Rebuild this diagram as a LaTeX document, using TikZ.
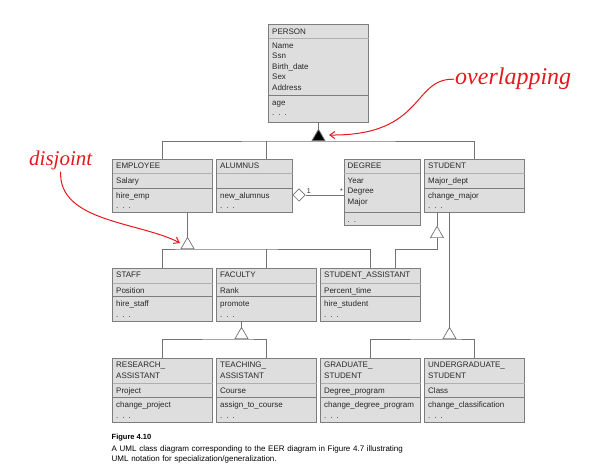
\documentclass[tikz,border=0pt]{standalone}
\usepackage{fontspec}
\newfontfamily\classfont{Liberation Sans}
\newfontfamily\notefont{Liberation Serif}
\usetikzlibrary{calc,shapes.geometric,arrows.meta}

\definecolor{boxfill}{RGB}{222,222,222}
\definecolor{boxline}{RGB}{125,125,125}
\definecolor{sepline}{RGB}{175,175,175}
\definecolor{linkgray}{RGB}{115,115,115}
\definecolor{boxtext}{RGB}{40,40,40}
\definecolor{notered}{RGB}{228,24,30}

\tikzset{
  classbox/.style={draw=boxline, fill=boxfill, line width=0.8pt, inner sep=0pt, outer sep=0pt},
  titleline/.style={draw=sepline, line width=0.6pt},
  rowline/.style={draw=boxline, line width=0.6pt},
  classtext/.style={anchor=base west, inner sep=0pt, text width=94pt, align=left,
    text=boxtext, font=\classfont\fontsize{8}{10.4}\selectfont},
  link/.style={draw=linkgray, line width=0.7pt},
  gentri/.style={regular polygon, regular polygon sides=3, draw=linkgray, line width=0.7pt,
    inner sep=0pt, minimum size=15pt},
  aggdiamond/.style={diamond, draw=linkgray, fill=white, line width=0.7pt, inner sep=0pt,
    minimum width=12.5pt, minimum height=12.5pt},
  multlabel/.style={inner sep=1pt, text=boxtext, font=\classfont\fontsize{7}{8}\selectfont},
  note/.style={text=notered, inner sep=1pt, font=\notefont\itshape\fontsize{24}{28}\selectfont},
  notearrow/.style={draw=notered, line width=1pt, -{Straight Barb[length=5pt,width=7pt]}},
  captext/.style={anchor=base west, inner sep=0pt, text width=340pt, align=left,
    font=\classfont\fontsize{8}{10}\selectfont},
}

% one class: name, corner, width, row heights, title, attributes, operations
\newcommand{\umlclass}[9]{%
  \node[classbox, minimum width=#3pt, minimum height={(#4+#5+#6)*1pt}, anchor=north west] (#1) at (#2) {};
  \draw[titleline] ($(#1.north west)+(0,#4)$) -- ($(#1.north east)+(0,#4)$);
  \draw[rowline] ($(#1.north west)+(0,#4+#5)$) -- ($(#1.north east)+(0,#4+#5)$);
  \node[classtext] at ($(#1.north west)+(3.5,10)$) {#7};
  \node[classtext] at ($(#1.north west)+(3.5,#4+10.5)$) {#8};
  \node[classtext] at ($(#1.north west)+(3.5,#4+#5+10.5)$) {#9};
}

\begin{document}
\begin{tikzpicture}[x=1pt,y=-1pt]
	\useasboundingbox (0,0) rectangle (590,473);
	% classes
	\umlclass{person}{268.5,24.5}{100}{13.5}{57}{27.5}{PERSON}{Name\\Ssn\\Birth\_date\\Sex\\Address}{age\\. . .}
	\umlclass{employee}{112.5,159}{100}{14}{15}{24}{EMPLOYEE}{Salary}{hire\_emp\\. . .}
	\umlclass{alumnus}{216.5,159}{76}{14}{15}{24}{ALUMNUS}{}{new\_alumnus\\. . .}
	\umlclass{degree}{344,159}{76}{14}{39}{13}{DEGREE}{Year\\Degree\\Major}{. .}
	\umlclass{student}{424.5,159}{100}{14}{15}{24}{STUDENT}{Major\_dept}{change\_major\\. . .}
	\umlclass{staff}{112.5,268}{100}{15}{13.5}{24.5}{STAFF}{Position}{hire\_staff\\. . .}
	\umlclass{faculty}{216.5,268}{100}{15}{13.5}{24.5}{FACULTY}{Rank}{promote\\. . .}
	\umlclass{stuassist}{320.5,268}{100}{15}{13.5}{24.5}{STUDENT\_ASSISTANT}{Percent\_time}{hire\_student\\. . .}
	\umlclass{research}{112.5,358}{100}{25.5}{14}{24.5}{RESEARCH\_\\ASSISTANT}{Project}{change\_project\\. . .}
	\umlclass{teaching}{216.5,358}{100}{25.5}{14}{24.5}{TEACHING\_\\ASSISTANT}{Course}{assign\_to\_course\\. . .}
	\umlclass{graduate}{320.5,358}{100}{25.5}{14}{24.5}{GRADUATE\_\\STUDENT}{Degree\_program}{change\_degree\_program\\. . .}
	\umlclass{undergrad}{424.5,358}{100}{25.5}{14}{24.5}{UNDERGRADUATE\_\\STUDENT}{Class}{change\_classification\\. . .}

	% specialization triangles
	\node[gentri, fill=black, anchor=south] (ptri) at (318.5,141) {};
	\node[gentri, fill=white, anchor=south] (etri) at (187.5,249) {};
	\node[gentri, fill=white, anchor=south] (stri) at (437,238) {};
	\node[gentri, fill=white, anchor=south] (ftri) at (241.5,339) {};
	\node[gentri, fill=white, anchor=south] (utri) at (449.5,339) {};

	% overlapping: person
	\draw[link] (person.south) -- (ptri.north);
	\draw[link] (employee.north) |- (ptri.south) -| (student.north);
	\draw[link] ([xshift=12pt]alumnus.north) -- ([xshift=12pt]alumnus.north |- ptri.south);
	% disjoint: employee
	\draw[link] ([xshift=25pt]employee.south) -- (etri.north);
	\draw[link] (staff.north) |- (etri.south) -| (stuassist.north);
	\draw[link] (faculty.north) -- (faculty.north |- etri.south);
	% student
	\draw[link] ([xshift=-37.5pt]student.south) -- (stri.north);
	\draw[link] (stri.south) |- ([xshift=24.5pt]stuassist.north |- etri.south) -- ([xshift=24.5pt]stuassist.north);
	\draw[link] ([xshift=-25pt]student.south) -- (utri.north);
	\draw[link] (graduate.north) |- (utri.south) -| (undergrad.north);
	% faculty
	\draw[link] ([xshift=-25pt]faculty.south) -- (ftri.north);
	\draw[link] (research.north) |- (ftri.south) -| (teaching.north);

	% aggregation alumnus - degree
	\node[aggdiamond, anchor=west] (agg) at ([yshift=-9.5pt]alumnus.east) {};
	\draw[link] (agg.east) -- (agg.east -| degree.west);
	\node[multlabel, anchor=south west] (multone) at (agg.east) {1};
	\node[multlabel, anchor=south east] (multmany) at (agg.east -| degree.west) {*};

	% red notes
	\node[note, anchor=base west] (overnote) at (454,85) {overlapping};
	\coordinate (overtip) at (329,135);
	\draw[notearrow] (overnote.west) .. controls (412,78) and (425,136) .. (overtip);
	\node[note, anchor=base west, font=\notefont\itshape\fontsize{21}{25}\selectfont] (disjnote) at (28,166) {disjoint};
	\coordinate (disjtip) at (180,243);
	\draw[notearrow] (disjnote.south) .. controls (58,222) and (140,222) .. (disjtip);

	% caption
	\node[anchor=base west, inner sep=0pt, font=\classfont\bfseries\fontsize{7.5}{9}\selectfont] (fignum) at (111.5,440) {Figure 4.10};
	\node[captext] (figtext) at (111.5,451.5) {A UML class diagram corresponding to the EER diagram in Figure 4.7 illustrating\\UML notation for specialization/generalization.};
\end{tikzpicture}
\end{document}
